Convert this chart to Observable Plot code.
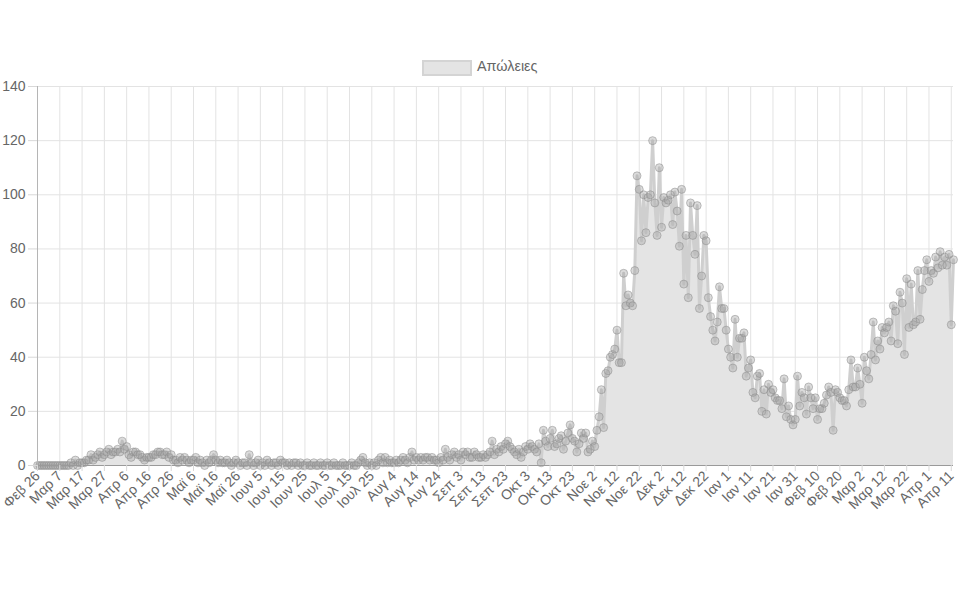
<!DOCTYPE html>
<html><head><meta charset="utf-8">
<script src="https://cdn.jsdelivr.net/npm/d3@7"></script>
<script src="https://cdn.jsdelivr.net/npm/@observablehq/plot@0.6"></script>
<style>
body{margin:0;background:#fff;font-family:"Liberation Sans",Arial,sans-serif;}
#legend{position:relative;height:80px;width:960px;}
.lg-box{position:absolute;left:422px;top:60px;width:46px;height:12px;background:#e4e4e4;border:2px solid #d4d4d4;}
.lg-text{position:absolute;left:477px;top:58px;font-size:14.4px;line-height:17px;color:#666;}
#chart svg{display:block;}
</style></head>
<body>
<div id="legend"><div class="lg-box"></div><div class="lg-text">Απώλειες</div></div>
<div id="chart"></div>
<script>
const seriesName = "Απώλειες";
const tickLabels = ["Φεβ 26","Μαρ 7","Μαρ 17","Μαρ 27","Απρ 6","Απρ 16","Απρ 26","Μαϊ 6","Μαϊ 16","Μαϊ 26",
  "Ιουν 5","Ιουν 15","Ιουν 25","Ιουλ 5","Ιουλ 15","Ιουλ 25","Αυγ 4","Αυγ 14","Αυγ 24","Σεπ 3",
  "Σεπ 13","Σεπ 23","Οκτ 3","Οκτ 13","Οκτ 23","Νοε 2","Νοε 12","Νοε 22","Δεκ 2","Δεκ 12",
  "Δεκ 22","Ιαν 1","Ιαν 11","Ιαν 21","Ιαν 31","Φεβ 10","Φεβ 20","Μαρ 2","Μαρ 12","Μαρ 22",
  "Απρ 1","Απρ 11"];
const yTicks = [0,20,40,60,80,100,120,140];
// daily deaths, one value per day from Feb 26 2020
const deaths = [
  0,0,0,0,0,0,0,0,0,0,
  0,0,0,0,0,1,0,2,0,1,
  1,1,2,2,4,2,3,4,5,3,
  4,5,6,4,5,5,6,5,9,6,
  7,4,3,5,5,4,4,3,2,3,
  3,3,4,4,5,5,4,4,5,3,
  4,2,2,1,3,2,3,2,1,2,
  2,3,1,2,1,0,2,1,2,4,
  2,1,2,1,1,2,1,0,1,2,
  1,0,1,1,0,4,1,0,1,2,
  0,1,0,2,1,0,1,1,0,2,
  1,1,0,1,0,1,1,0,1,0,
  0,1,0,0,1,0,0,1,0,0,
  1,0,0,1,0,0,0,1,0,0,
  0,1,0,0,1,2,3,1,0,1,
  0,1,0,2,3,1,3,1,2,1,
  1,2,1,2,3,2,1,3,5,2,
  3,2,3,2,3,3,2,3,2,2,
  1,3,2,6,3,2,4,5,3,4,
  2,5,4,5,3,3,5,4,3,3,
  4,3,4,5,9,4,6,5,7,6,
  8,9,7,6,5,4,6,3,5,7,
  6,8,7,6,5,8,1,13,9,7,
  10,13,7,8,10,11,6,9,12,15,
  10,9,5,8,12,10,12,5,6,9,
  7,13,18,28,14,34,35,40,41,43,
  50,38,38,71,59,63,60,59,72,107,
  102,83,100,86,99,100,120,97,85,110,
  88,99,97,98,100,89,101,94,81,102,
  67,85,62,97,85,78,96,58,70,85,
  83,62,55,50,46,53,66,58,58,50,
  43,40,36,54,40,47,47,49,33,36,
  39,27,25,33,34,20,28,19,30,27,
  28,25,24,24,21,32,18,22,17,15,
  17,33,22,27,25,19,29,25,21,25,
  17,21,21,23,26,29,27,13,28,27,
  25,24,24,22,28,39,29,29,36,30,
  23,40,35,32,41,53,39,46,43,51,
  49,51,53,46,59,57,45,64,60,41,
  69,51,67,52,53,72,54,65,72,76,
  68,72,71,77,73,79,74,77,74,78,
  52,76
];
const data = deaths.map((v, i) => ({i, v}));
const tickIdx = tickLabels.map((_, k) => k * 10);
const fmt = d => tickLabels[Math.round(d / 10)];

const chart = Plot.plot({
  width: 960, height: 520,
  marginLeft: 37, marginRight: 7, marginTop: 6, marginBottom: 135,
  style: {fontFamily: '"Liberation Sans", Arial, sans-serif', fontSize: "14px", color: "#666", background: "#fff", overflow: "visible"},
  x: {domain: [0, deaths.length - 1], label: null},
  y: {domain: [0, 140], label: null},
  marks: [
    Plot.gridX(tickIdx, {stroke: "#e3e3e3", strokeOpacity: 1}),
    Plot.gridY(yTicks, {stroke: "#e3e3e3", strokeOpacity: 1}),
    Plot.areaY(data, {x: "i", y: "v", fill: "#e4e4e4"}),
    Plot.lineY(data, {x: "i", y: "v", stroke: "#cfcfcf", strokeWidth: 3}),
    Plot.dot(data, {x: "i", y: "v", r: 4, fill: "#a4a4a4", fillOpacity: 0.4, stroke: "#8a8a8a", strokeOpacity: 0.5, strokeWidth: 1}),
    Plot.ruleY([0], {stroke: "#9a9a9a"}),
    Plot.ruleX([0], {stroke: "#b5b5b5"}),
    Plot.axisX(tickIdx, {tickFormat: fmt, tickRotate: -45, tickSize: 6, tickPadding: 2, stroke: "#d8d8d8", fill: "#666", fontSize: 14, label: null}),
    Plot.axisY(yTicks, {tickSize: 9, tickPadding: 3, stroke: "#d8d8d8", fill: "#666", fontSize: 14, label: null})
  ]
});
document.getElementById("chart").appendChild(chart);
</script>
</body></html>
